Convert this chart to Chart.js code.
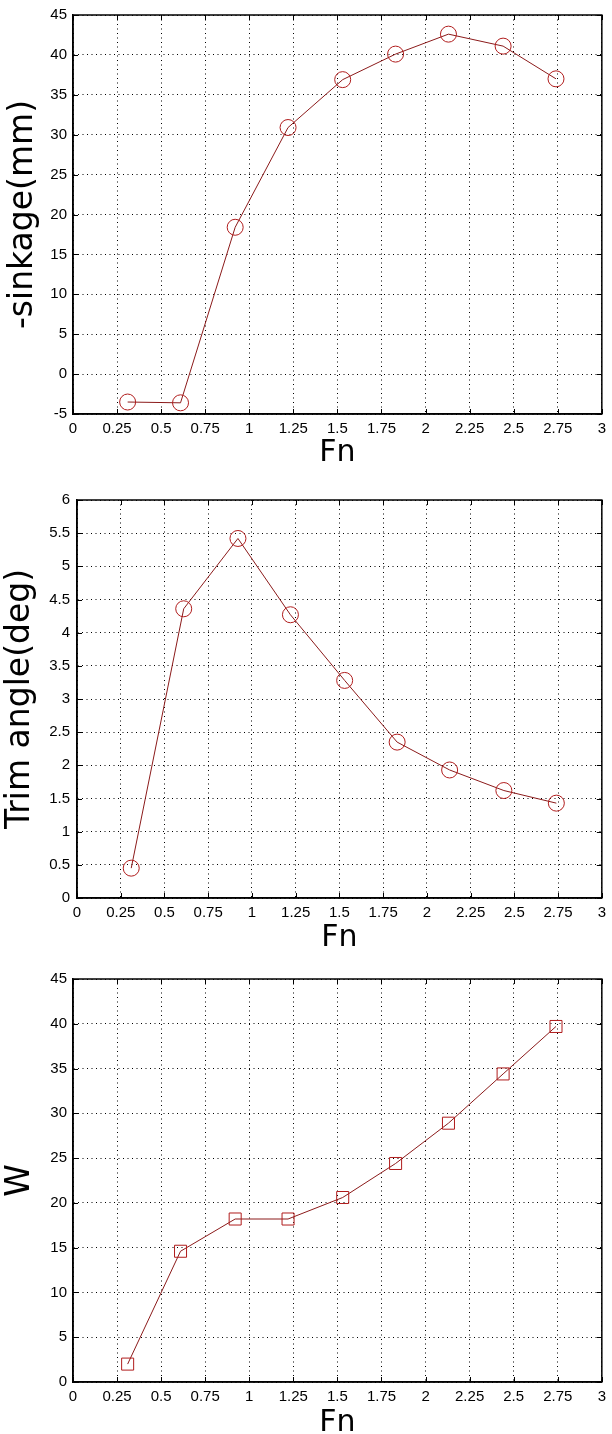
<!DOCTYPE html>
<html>
<head>
<meta charset="utf-8">
<script src="https://cdn.jsdelivr.net/npm/chart.js@4/dist/chart.umd.min.js"></script>
<style>
  html, body { margin: 0; padding: 0; background: #fff; overflow: hidden; }
  canvas { position: absolute; left: 0; }
</style>
</head>
<body>
<canvas id="c1" width="612" height="474" style="top:0px"></canvas>
<canvas id="c2" width="612" height="474" style="top:484px"></canvas>
<canvas id="c3" width="612" height="470" style="top:964px"></canvas>
<script>
// Froude numbers, shared by all three plots
const fn = [0.31, 0.61, 0.92, 1.22, 1.53, 1.83, 2.13, 2.44, 2.74];
const sinkage = [-3.5, -3.6, 18.4, 30.9, 36.9, 40.1, 42.6, 41.1, 37.0];
const trim = [0.45, 4.36, 5.42, 4.27, 3.28, 2.35, 1.93, 1.62, 1.43];
const wValues = [2.0, 14.6, 18.2, 18.2, 20.6, 24.4, 28.9, 34.4, 39.7];

const xTicks = [0, 0.25, 0.5, 0.75, 1, 1.25, 1.5, 1.75, 2, 2.25, 2.5, 2.75, 3];
const sinkTicks = [-5, 0, 5, 10, 15, 20, 25, 30, 35, 40, 45];
const trimTicks = [0, 0.5, 1, 1.5, 2, 2.5, 3, 3.5, 4, 4.5, 5, 5.5, 6];
const wTicks = [0, 5, 10, 15, 20, 25, 30, 35, 40, 45];

Chart.defaults.color = '#000';
Chart.defaults.font.family = '"Liberation Sans", Arial, sans-serif';

// matlab style box with inward tick marks
const boxPlugin = {
  id: 'box',
  afterDraw(chart) {
    const ctx = chart.ctx;
    const a = chart.chartArea;
    const sx = chart.scales.x, sy = chart.scales.y;
    ctx.save();
    ctx.strokeStyle = '#000';
    ctx.lineWidth = 1.5;
    ctx.strokeRect(a.left, a.top, a.right - a.left, a.bottom - a.top);
    ctx.lineWidth = 1;
    ctx.beginPath();
    sx.ticks.forEach(function (t) {
      const px = Math.round(sx.getPixelForValue(t.value)) + 0.5;
      ctx.moveTo(px, a.bottom); ctx.lineTo(px, a.bottom - 5);
      ctx.moveTo(px, a.top); ctx.lineTo(px, a.top + 5);
    });
    sy.ticks.forEach(function (t) {
      const py = Math.round(sy.getPixelForValue(t.value)) + 0.5;
      ctx.moveTo(a.left, py); ctx.lineTo(a.left + 5, py);
      ctx.moveTo(a.right, py); ctx.lineTo(a.right - 5, py);
    });
    ctx.stroke();
    ctx.restore();
  }
};

function makeChart(id, ys, yTicks, yTitle, marker, opts) {
  const points = fn.map(function (x, i) {
    return { x: x, y: ys[i] };
  });
  return new Chart(document.getElementById(id), {
    type: 'line',
    data: {
      datasets: [{
        data: points,
        borderColor: '#8b1a1a',
        borderWidth: 1,
        tension: 0,
        pointStyle: marker,
        pointRadius: marker === 'rect' ? 8.5 : 8,
        pointBorderColor: '#b01c1c',
        pointBorderWidth: 1,
        pointBackgroundColor: 'rgba(0,0,0,0)',
      }],
    },
    options: {
      responsive: false,
      animation: false,
      layout: { padding: { top: 13, right: opts.right, left: 0, bottom: 0 } },
      plugins: { legend: { display: false }, tooltip: { enabled: false } },
      scales: {
        x: {
          type: 'linear',
          min: 0,
          max: 3,
          afterBuildTicks: function (s) {
            s.ticks = xTicks.map(function (v) { return { value: v }; });
          },
          afterFit: function (s) { s.height = opts.xHeight; },
          ticks: {
            font: { size: 15 },
            padding: 6,
            maxRotation: 0,
            autoSkip: false,
            callback: function (v) { return String(v); },
          },
          grid: { color: '#000', lineWidth: 1, drawTicks: false },
          border: { display: true, color: '#000', width: 1.5, dash: [1, 3.5] },
          title: {
            display: true,
            text: 'Fn',
            font: { family: '"DejaVu Sans"', size: 30, lineHeight: 0.6 },
            padding: { top: 0, bottom: opts.fnPad },
          },
        },
        y: {
          type: 'linear',
          min: yTicks[0],
          max: yTicks[yTicks.length - 1],
          afterBuildTicks: function (s) {
            s.ticks = yTicks.map(function (v) { return { value: v }; });
          },
          afterFit: function (s) { s.width = opts.yWidth; },
          ticks: {
            font: { size: 15 },
            padding: opts.yTickPad,
            callback: function (v) { return String(v); },
          },
          grid: { color: '#000', lineWidth: 1, drawTicks: false },
          border: { display: true, color: '#000', width: 1.5, dash: [1, 3.5] },
          title: {
            display: true,
            text: yTitle,
            font: { family: '"DejaVu Sans"', size: 33, lineHeight: 1 },
            padding: { top: opts.titlePad, bottom: 0 },
          },
        },
      },
    },
    plugins: [boxPlugin],
  });
}

makeChart('c1', sinkage, sinkTicks, '-sinkage(mm)', 'circle',
  { right: 4, xHeight: 60, fnPad: 11.7, yWidth: 73, yTickPad: 6, titlePad: 7 });
makeChart('c2', trim, trimTicks, 'Trim angle(deg)', 'circle',
  { right: 5, xHeight: 60, fnPad: 10.7, yWidth: 77, yTickPad: 7, titlePad: 4 });
makeChart('c3', wValues, wTicks, 'W', 'rect',
  { right: 5, xHeight: 52, fnPad: 1.7, yWidth: 73, yTickPad: 6, titlePad: 4 });
</script>
</body>
</html>
